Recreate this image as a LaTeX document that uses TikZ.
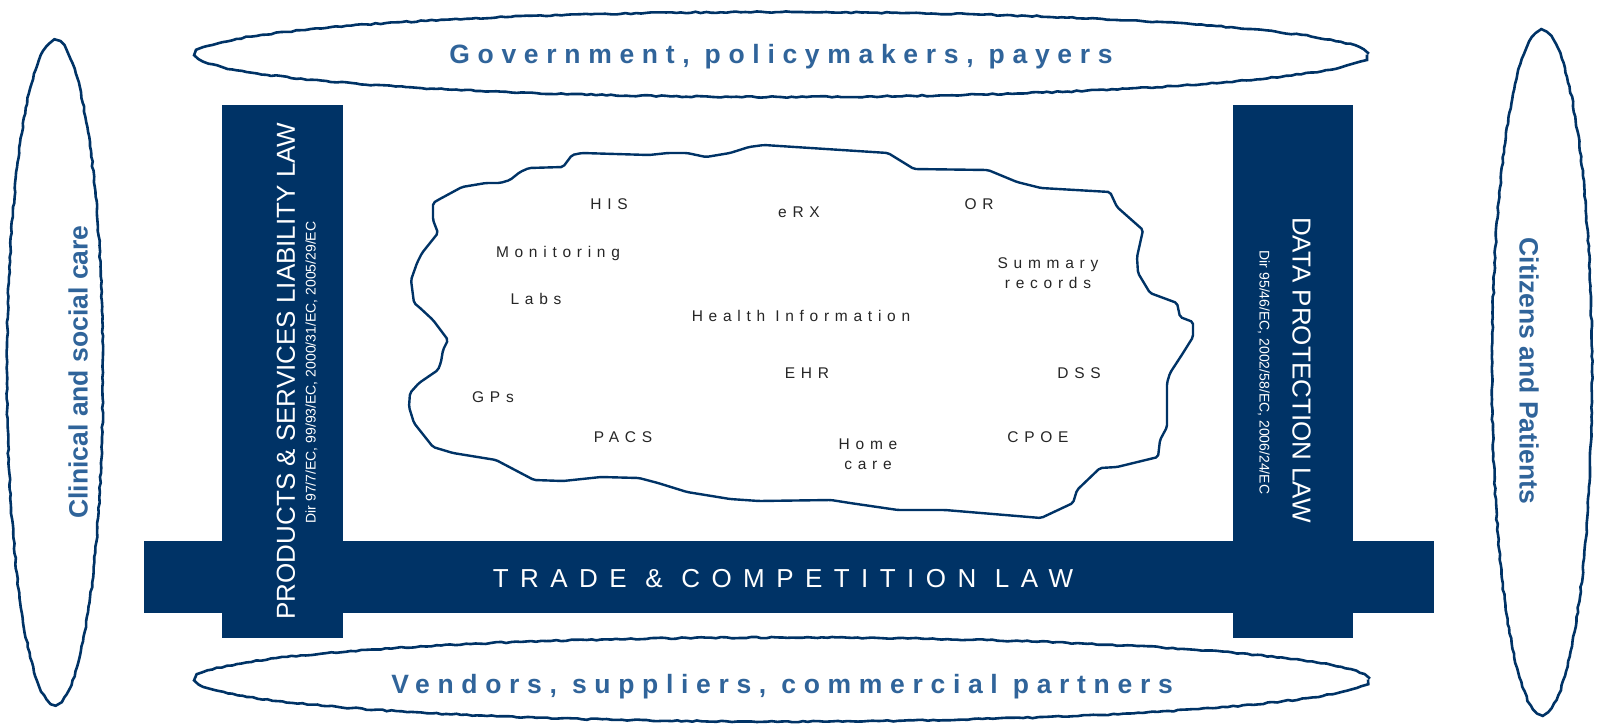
\documentclass[tikz,border=0pt]{standalone}
\usepackage{fontspec}
\setmainfont{Liberation Sans}
\usepackage{tikz}
\usetikzlibrary{decorations.pathmorphing}

\definecolor{lawblue}{HTML}{003366}
\definecolor{actorblue}{HTML}{30649A}

% spread the letters of a label
\newcommand{\spread}[1]{\addfontfeatures{LetterSpace=#1}}

\begin{document}
\begin{tikzpicture}[x=1pt, y=-1pt,
    law/.style={fill=lawblue},
    lawtext/.style={text=white, inner sep=0pt, font=\fontsize{26}{30}\selectfont, text height=18.6pt, text depth=0pt},
    dirtext/.style={text=white, inner sep=0pt, font=\fontsize{14}{17}\selectfont, text height=10pt, text depth=0pt},
    actor/.style={draw=lawblue, line width=2.6pt, decorate, decoration={random steps, segment length=5pt, amplitude=0.7pt}},
    actortext/.style={text=actorblue, inner sep=0pt, font=\fontsize{26.5}{30}\selectfont\bfseries, text height=19pt, text depth=0pt},
    cloudline/.style={draw=lawblue, line width=2.4pt, rounded corners=2pt, fill=white},
    system/.style={inner sep=0pt, text=black!85, font=\fontsize{15.5}{20}\selectfont\spread{37}, text height=11pt, text depth=0pt}]

    \useasboundingbox (0,0) rectangle (1600,726);
    \pgfmathsetseed{11}

    % stakeholders around the edge
    \draw[actor] (781.5,54.5) ellipse [x radius=585.5, y radius=42.5];
    \draw[actor] (782,679.5) ellipse [x radius=586, y radius=42];
    \draw[actor] (55,372.5) ellipse [x radius=48, y radius=331.5];
    \draw[actor] (1542,372.5) ellipse [x radius=50, y radius=341.5];

    \node[actortext] (gov) at (781,53.5) {\spread{29}Government, policymakers, payers};
    \node[actortext] (vendors) at (782,684) {\spread{29}Vendors, suppliers, commercial partners};
    \node[actortext, rotate=90] (care) at (78,372) {Clinical and social care};
    \node[actortext, rotate=-90] (citizens) at (1529,371) {Citizens and Patients};

    % the three bodies of law
    \fill[law] (222,105) rectangle (342.5,638);
    \fill[law] (1233,105) rectangle (1352.5,638);
    \fill[law] (144,541) rectangle (1434,613);

    \node[lawtext, rotate=90] (liability) at (285.5,371) {PRODUCTS \& SERVICES LIABILITY LAW};
    \node[dirtext, rotate=90] (liabilitydir) at (310.5,372.5) {Dir 97/7/EC, 99/93/EC, 2000/31/EC, 2005/29/EC};
    \node[lawtext, rotate=-90] (dataprot) at (1302,370) {DATA PROTECTION LAW};
    \node[dirtext, rotate=-90] (dataprotdir) at (1264.5,372.5) {Dir 95/46/EC, 2002/58/EC, 2006/24/EC};
    \node[lawtext] (trade) at (783,578) {\spread{44}TRADE \& COMPETITION LAW};

    % health information cloud
    \path[cloudline] (764,145) -- (888,153) -- (914,169) -- (988,170) -- (1017,182)
        -- (1041,188) -- (1110,192) -- (1117,207) -- (1143,230) -- (1137,257)
        -- (1138,273) -- (1150,293) -- (1177,303) -- (1180,317) -- (1193,322)
        -- (1193,337) -- (1183,353) -- (1170,373) -- (1167,383) -- (1167,427)
        -- (1160,440) -- (1158,457) -- (1117,467) -- (1100,468) -- (1077,490)
        -- (1073,503) -- (1041,518) -- (945,510) -- (898,510) -- (850,503)
        -- (831,500) -- (759,501) -- (730,499) -- (687,492) -- (658,483)
        -- (639,478) -- (601,477) -- (563,481) -- (534,480) -- (515,470)
        -- (496,460) -- (453,453) -- (433,447) -- (414,423) -- (409,407)
        -- (410,393) -- (419,383) -- (438,370) -- (441,362) -- (443,350)
        -- (448,340) -- (433,320) -- (419,307) -- (414,303) -- (411,280)
        -- (417,263) -- (422,253) -- (438,233) -- (433,220) -- (433,203)
        -- (438,200) -- (462,187) -- (486,183) -- (500,183) -- (510,180)
        -- (520,172) -- (529,168) -- (563,167) -- (572,155) -- (582,153)
        -- (649,155) -- (668,153) -- (687,153) -- (706,157) -- (730,153)
        -- (749,147) -- cycle;

    \node[system] (his) at (609,203.5) {HIS};
    \node[system] (erx) at (799,211.5) {eRX};
    \node[system] (or) at (979,203.5) {OR};
    \node[system] (monitoring) at (558,251.5) {Monitoring};
    \node[system, align=center] (summary) at (1048,283) {Summary\\records};
    \node[system] (labs) at (536,299) {Labs};
    \node[system] (healthinfo) at (801,315.5) {Health Information};
    \node[system] (ehr) at (807,372.5) {EHR};
    \node[system] (dss) at (1079,372.5) {DSS};
    \node[system] (gps) at (493,397) {GPs};
    \node[system] (pacs) at (623,437) {PACS};
    \node[system] (cpoe) at (1038,437) {CPOE};
    \node[system, align=center] (homecare) at (868,463.5) {Home\\care};
\end{tikzpicture}
\end{document}
